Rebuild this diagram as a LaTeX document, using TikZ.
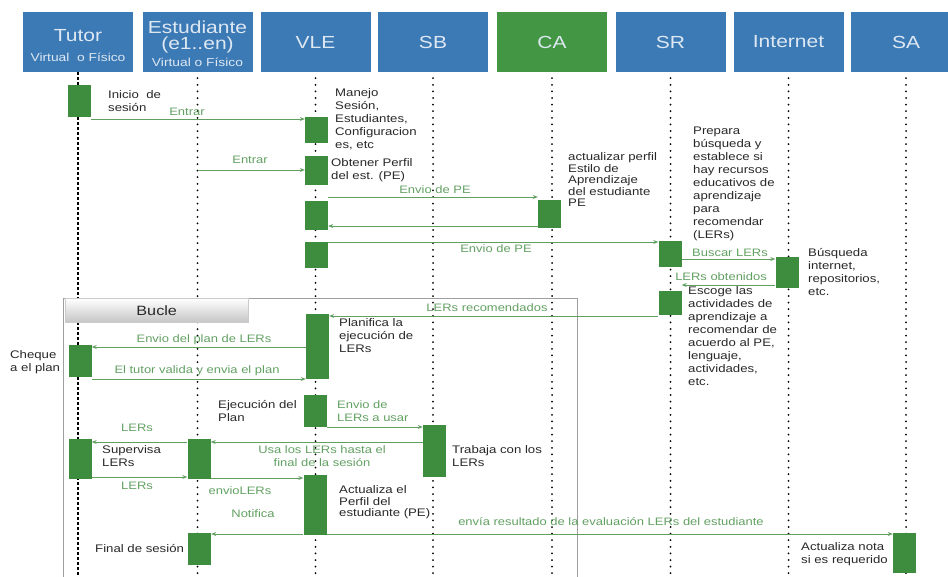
\documentclass[tikz,border=0pt]{standalone}
\usepackage{fontspec}
\setmainfont{Liberation Sans}[FakeStretch=1.2]
\usetikzlibrary{arrows.meta}

\definecolor{hblue}{RGB}{60,122,182}
\definecolor{hgreen}{RGB}{66,150,68}
\definecolor{htext}{RGB}{222,232,242}
\definecolor{bgreen}{RGB}{62,140,62}
\definecolor{agreen}{RGB}{98,160,98}
\definecolor{ltext}{RGB}{40,40,40}

\tikzset{
  head/.style={rectangle, fill=hblue, minimum width=110pt, minimum height=60pt, inner sep=0pt,
    align=center, text=htext, font=\fontsize{17.5}{16.5}\selectfont},
  act/.style={rectangle, fill=bgreen, minimum width=23pt, inner sep=0pt},
  life/.style={line width=2pt, line cap=round, dash pattern=on 0pt off 6.6pt},
  msg/.style={draw=agreen, line width=0.8pt, -{Stealth[length=5pt,width=4pt]}},
  lbl/.style={text=agreen, inner sep=0pt, font=\fontsize{10.8}{13}\selectfont},
  note/.style={anchor=north west, align=left, inner sep=0pt, text=ltext, font=\fontsize{11}{13}\selectfont},
  notetight/.style={note, font=\fontsize{11}{11.5}\selectfont},
}

\begin{document}
\begin{tikzpicture}[x=1pt, y=-1pt]
\useasboundingbox (0,0) rectangle (948,576);

% actors
\node (tutor)[head] at (78,42) {\rule{0pt}{19pt}Tutor\\[4pt]{\fontsize{11.5}{12}\selectfont Virtual\ \ o Físico}};
\node (est)[head] at (197.5,42) {\rule{0pt}{16pt}Estudiante\\(e1..en)\\{\fontsize{11.5}{12}\selectfont Virtual o Físico}};
\node (vle)[head] at (315.5,42) {VLE};
\node (sb)[head] at (433,42) {SB};
\node (ca)[head, fill=hgreen] at (552,42) {CA};
\node (sr)[head] at (670.5,42) {SR};
\node (inet)[head] at (788.5,42) {Internet};
\node (sa)[head] at (906,42) {SA};

% lifelines
\draw[line width=1.8pt, dash pattern=on 2.5pt off 2.5pt] (tutor.south) -- (tutor.south |- 0,580);
\foreach \n in {est,vle,sb,ca,sr,inet,sa}
  \draw[life] (\n.south) ++(0,6) -- (\n.south |- 0,580);

% loop frame
\draw[draw=gray!75, line width=1pt] (63,298) rectangle (577,590);
\node (bucle)[anchor=north west, minimum width=183pt, minimum height=24pt, inner sep=0pt,
  top color=white, bottom color=gray!45, draw=gray!40, text=ltext,
  font=\fontsize{13.5}{14}\selectfont] at (65,298) {Bucle};

% activations
\node (t1)[act, minimum height=32pt] at (79,101) {};
\node (v1)[act, minimum height=26pt] at (316.5,130) {};
\node (v2)[act, minimum height=29pt] at (316.5,170.5) {};
\node (v3)[act, minimum height=29pt] at (316.5,215.5) {};
\node (v4)[act, minimum height=26pt] at (316.5,255) {};
\node (ca1)[act, minimum height=28pt] at (549.5,214) {};
\node (sr1)[act, minimum height=26pt] at (670,254) {};
\node (in1)[act, minimum height=31pt] at (787,272.5) {};
\node (sr2)[act, minimum height=24pt] at (670,303) {};
\node (v5)[act, minimum height=65pt] at (317.5,346.5) {};
\node (t2)[act, minimum height=32pt] at (80,361) {};
\node (v6)[act, minimum height=32pt] at (315,411) {};
\node (sb1)[act, minimum height=52pt] at (434.5,451) {};
\node (t3)[act, minimum height=40pt] at (80,459) {};
\node (e1)[act, minimum height=40pt] at (199,459) {};
\node (v7)[act, minimum height=60pt] at (315,505) {};
\node (e2)[act, minimum height=32pt] at (199.5,549) {};
\node (sa1)[act, minimum height=40pt] at (904.5,553) {};

% messages
\draw[msg] (t1.east |- 0,119) -- (v1.west |- 0,119);
\draw[msg] (est.south |- 0,170) -- (v2.west |- 0,170);
\draw[msg] (v3.east |- 0,197) -- (ca1.west |- 0,197);
\draw[msg] (ca1.west |- 0,226) -- (v3.east |- 0,226);
\draw[msg] (v4.east |- 0,242) -- (sr1.west |- 0,242);
\draw[msg] (sr1.east |- 0,259) -- (in1.west |- 0,259);
\draw[msg] (in1.west |- 0,285) -- (sr1.east |- 0,285);
\draw[msg] (sr2.west |- 0,316) -- (v5.east |- 0,316);
\draw[msg] (v5.west |- 0,347) -- (t2.east |- 0,347);
\draw[msg] (t2.east |- 0,379) -- (v5.west |- 0,379);
\draw[msg] (v6.east |- 0,427) -- (sb1.west |- 0,427);
\draw[msg] (sb1.west |- 0,442) -- (e1.east |- 0,442);
\draw[msg] (e1.west |- 0,442) -- (t3.east |- 0,442);
\draw[msg] (t3.east |- 0,477) -- (e1.west |- 0,477);
\draw[msg] (e1.east |- 0,478) -- (v7.west |- 0,478);
\draw[msg] (v7.west |- 0,534) -- (e2.east |- 0,534);
\draw[msg] (v7.east |- 0,534) -- (sa1.west |- 0,534);

% message labels
\node (m1)[lbl] at (187,112) {Entrar};
\node (m2)[lbl] at (250,160) {Entrar};
\node (m3)[lbl] at (435,190) {Envio de PE};
\node (m4)[lbl] at (496,249) {Envio de PE};
\node (m5)[lbl] at (730,253) {Buscar LERs};
\node (m6)[lbl] at (721,277) {LERs obtenidos};
\node (m7)[lbl] at (487,308) {LERs recomendados};
\node (m8)[lbl] at (204,340) {Envio del plan de LERs};
\node (m9)[lbl] at (197,371) {El tutor valida y envia el plan};
\node (m10)[lbl, anchor=north west, align=left] at (337,400.5) {Envio de\\LERs a usar};
\node (m11)[lbl, align=center] at (322,456) {Usa los LERs hasta el\\final de la sesión};
\node (m12)[lbl] at (137,428) {LERs};
\node (m13)[lbl] at (137,486) {LERs};
\node (m14)[lbl] at (240,491) {envioLERs};
\node (m15)[lbl] at (253,514) {Notifica};
\node (m16)[lbl] at (611,522) {envía resultado de la evaluación LERs del estudiante};

% notes
\node (n1)[note] at (108,90.5) {Inicio\ \ de\\sesión};
\node (n2)[note] at (335,88.5) {Manejo\\Sesión,\\Estudiantes,\\Configuracion\\es, etc};
\node (n3)[note] at (331,158.5) {Obtener Perfil\\del est. (PE)};
\node (n4)[notetight] at (568,152.5) {actualizar perfil\\Estilo de\\Aprendizaje\\del estudiante\\PE};
\node (n5)[note] at (693,126.5) {Prepara\\búsqueda y\\establece si\\hay recursos\\educativos de\\aprendizaje\\para\\recomendar\\(LERs)};
\node (n6)[note] at (808,248.5) {Búsqueda\\internet,\\repositorios,\\etc.};
\node (n7)[note] at (688,286.5) {Escoge las\\actividades de\\aprendizaje a\\recomendar de\\acuerdo al PE,\\lenguaje,\\actividades,\\etc.};
\node (n8)[note] at (10,350.5) {Cheque\\a el plan};
\node (n9)[note] at (339,318.5) {Planifica la\\ejecución de\\LERs};
\node (n10)[note] at (218,400.5) {Ejecución del\\Plan};
\node (n11)[note] at (102,445.5) {Supervisa\\LERs};
\node (n12)[note] at (452,445.5) {Trabaja con los\\LERs};
\node (n13)[notetight] at (339,485.5) {Actualiza el\\Perfil del\\estudiante (PE)};
\node (n14)[note] at (95,544.5) {Final de sesión};
\node (n15)[note] at (801,542.5) {Actualiza nota\\si es requerido};
\end{tikzpicture}
\end{document}
